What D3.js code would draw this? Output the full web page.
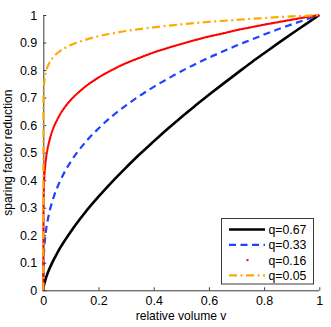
<!DOCTYPE html>
<html><head><meta charset="utf-8">
<script src="https://cdn.jsdelivr.net/npm/d3@7"></script>
<style>
html,body{margin:0;padding:0;background:#fff;}
svg{display:block;font-family:"Liberation Sans",Arial,Helvetica,sans-serif;}
</style></head>
<body>
<svg id="c" width="331" height="327"></svg>
<script>
const vol = [0, 0.0005, 0.001, 0.002, 0.004, 0.006, 0.01, 0.015, 0.02, 0.03, 0.04, 0.05, 0.06, 0.08, 0.1, 0.12, 0.15, 0.2, 0.25, 0.3, 0.35, 0.4, 0.45, 0.5, 0.55, 0.6, 0.65, 0.7, 0.75, 0.8, 0.85, 0.9, 0.95, 1];
const q067 = [0, 0.006, 0.010, 0.016, 0.025, 0.032, 0.046, 0.060, 0.073, 0.095, 0.116, 0.134, 0.152, 0.184, 0.214, 0.242, 0.281, 0.340, 0.395, 0.446, 0.495, 0.541, 0.586, 0.629, 0.670, 0.710, 0.749, 0.787, 0.825, 0.861, 0.897, 0.932, 0.966, 1];
const q033 = [0, 0.081, 0.102, 0.129, 0.162, 0.185, 0.219, 0.250, 0.275, 0.314, 0.346, 0.372, 0.395, 0.435, 0.468, 0.497, 0.535, 0.588, 0.633, 0.672, 0.707, 0.739, 0.768, 0.796, 0.821, 0.845, 0.867, 0.889, 0.909, 0.929, 0.948, 0.966, 0.983, 1];
const q016 = [0, 0.296, 0.331, 0.370, 0.413, 0.441, 0.479, 0.511, 0.535, 0.571, 0.598, 0.619, 0.638, 0.668, 0.692, 0.712, 0.738, 0.773, 0.801, 0.825, 0.845, 0.864, 0.880, 0.895, 0.909, 0.922, 0.933, 0.945, 0.955, 0.965, 0.974, 0.983, 0.992, 1];
const q005 = [0, 0.684, 0.708, 0.733, 0.759, 0.774, 0.794, 0.811, 0.822, 0.839, 0.851, 0.861, 0.869, 0.881, 0.891, 0.899, 0.909, 0.923, 0.933, 0.942, 0.949, 0.955, 0.961, 0.966, 0.971, 0.975, 0.979, 0.982, 0.986, 0.989, 0.992, 0.995, 0.997, 1];
const seriesNames = ["q=0.67", "q=0.33", "q=0.16", "q=0.05"];
const xTicks = [0, 0.2, 0.4, 0.6, 0.8, 1];
const yTicks = [0, 0.1, 0.2, 0.3, 0.4, 0.5, 0.6, 0.7, 0.8, 0.9, 1];

const svg = d3.select("#c");
const x = d3.scaleLinear().domain([0, 1]).range([43.3, 319.3]);
const y = d3.scaleLinear().domain([0, 1]).range([290.3, 15]);
const fmt = d => d === 0 ? "0" : d === 1 ? "1" : d3.format(".1f")(d);

const styles = [
  {color: "#000000", width: 2.6, dash: null, cap: "butt"},
  {color: "#2142ff", width: 2.2, dash: "7,4.5", cap: "butt"},
  {color: "#ff0000", width: 2.3, dash: "0.01,1.8", cap: "round"},
  {color: "#ffaa00", width: 2.2, dash: "8,3.5,2,3.5", cap: "butt"}
];
const seriesData = [q067, q033, q016, q005];

// axes
const xAxis = d3.axisBottom(x).tickValues(xTicks).tickSize(-3).tickPadding(6).tickFormat(fmt);
const yAxis = d3.axisLeft(y).tickValues(yTicks).tickSize(-3).tickPadding(6).tickFormat(fmt);
const gx = svg.append("g").attr("transform", `translate(0,${y(0)})`).call(xAxis);
const gy = svg.append("g").attr("transform", `translate(${x(0)},0)`).call(yAxis);
[gx, gy].forEach(g => {
  g.select(".domain").attr("stroke", "#3a3a3a").attr("stroke-width", 1);
  g.selectAll(".tick line").attr("stroke", "#3a3a3a");
  g.selectAll(".tick text").attr("fill", "#000").style("font-size", "12.5px").style("font-family", "'Liberation Sans',Arial,sans-serif");
});
gx.select(".domain").attr("d", `M${x(0)},0.5H${x(1)}`);
gy.select(".domain").attr("d", `M0.5,${y(0)}V${y(1)}`);

// lines
const line = d3.line().curve(d3.curveMonotoneX);
seriesData.forEach((vals, i) => {
  const pts = vol.map((v, k) => [x(v), y(vals[k])]);
  const s = styles[i];
  svg.append("path")
    .attr("d", line(pts))
    .attr("fill", "none")
    .attr("stroke", s.color)
    .attr("stroke-width", s.width)
    .attr("stroke-dasharray", s.dash)
    .attr("stroke-linecap", s.cap)
    .attr("stroke-linejoin", "round");
});

// labels
svg.append("text").attr("x", 181).attr("y", 319.5).attr("text-anchor", "middle")
  .style("font-size", "12.1px").text("relative volume v");
svg.append("text").attr("transform", `translate(11.5,${(y(0) + y(1)) / 2}) rotate(-90)`)
  .attr("text-anchor", "middle").style("font-size", "12.1px").text("sparing factor reduction");

// legend
const lg = svg.append("g");
lg.append("rect").attr("x", 221.5).attr("y", 218.5).attr("width", 92).attr("height", 65.5)
  .attr("fill", "#fff").attr("stroke", "#3a3a3a").attr("stroke-width", 1);
seriesNames.forEach((name, i) => {
  const cy = 229.5 + i * 15.3;
  const s = styles[i];
  if (i === 2) {
    lg.append("circle").attr("cx", 247.5).attr("cy", cy).attr("r", 1.2).attr("fill", s.color);
  } else {
    lg.append("line").attr("x1", 229).attr("x2", 265).attr("y1", cy).attr("y2", cy)
      .attr("stroke", s.color).attr("stroke-width", s.width).attr("stroke-dasharray", s.dash);
  }
  lg.append("text").attr("x", 268.5).attr("y", cy + 4.4).style("font-size", "12.3px").text(name);
});
</script>
</body></html>
